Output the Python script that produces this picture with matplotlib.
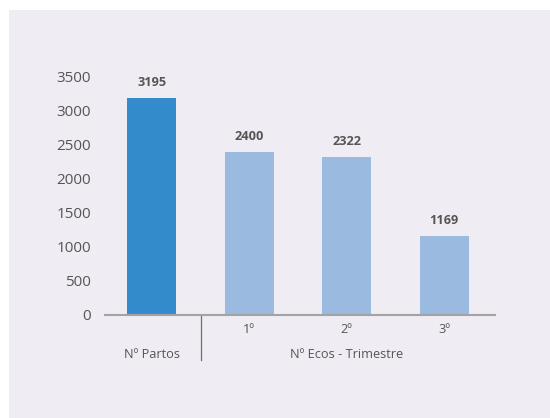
import matplotlib.pyplot as plt
from matplotlib.patches import Rectangle

categories = ['Nº Partos', '1º', '2º', '3º']
values = [3195, 2400, 2322, 1169]
bar_colors = ['#348bcb', '#9bbae0', '#9bbae0', '#9bbae0']
group_labels = ['Nº Partos', 'Nº Ecos - Trimestre']

plt.rcParams['font.family'] = ['Open Sans', 'DejaVu Sans']
text_color = '#555555'

fig = plt.figure(figsize=(5.5, 4.18), dpi=100)
fig.patch.set_facecolor('white')
fig.patches.append(Rectangle((9 / 550, 0), 1, 1 - 10 / 418, transform=fig.transFigure,
                             facecolor='#efedf3', edgecolor='none', zorder=-1))

ax = fig.add_axes([105 / 550, 103 / 418, 390 / 550, 238 / 418])
ax.set_facecolor('none')

x = list(range(len(values)))
bars = ax.bar(x, values, width=0.5, color=bar_colors, zorder=2)
for xi, v in zip(x, values):
    ax.annotate(str(v), (xi, v), xytext=(0, 11), textcoords='offset points',
                ha='center', va='center', fontsize=9.2, fontweight='bold',
                color=text_color)

ax.set_xlim(-0.48, 3.52)
ax.set_ylim(0, 3500)
ax.set_yticks(range(0, 3501, 500))
ax.tick_params(axis='y', length=0, labelsize=11, colors=text_color, pad=10)
ax.set_xticks([1, 2, 3])
ax.set_xticklabels(categories[1:])
ax.tick_params(axis='x', length=0, labelsize=9.2, colors=text_color, pad=6)

for s in ['top', 'right', 'left']:
    ax.spines[s].set_visible(False)
ax.spines['bottom'].set_color('#a3a3a3')
ax.spines['bottom'].set_linewidth(1.5)

# group labels and separator below the axis
trans = ax.get_xaxis_transform()
ax.text(0, -0.165, group_labels[0], transform=trans, ha='center', va='center',
        fontsize=9.2, color=text_color)
ax.text(2, -0.165, group_labels[1], transform=trans, ha='center', va='center',
        fontsize=9.2, color=text_color)
ax.plot([0.5, 0.5], [0, -0.19], transform=trans, color='#6e6e6e', lw=0.9,
        clip_on=False)

fig.savefig('out.png', dpi=100)
